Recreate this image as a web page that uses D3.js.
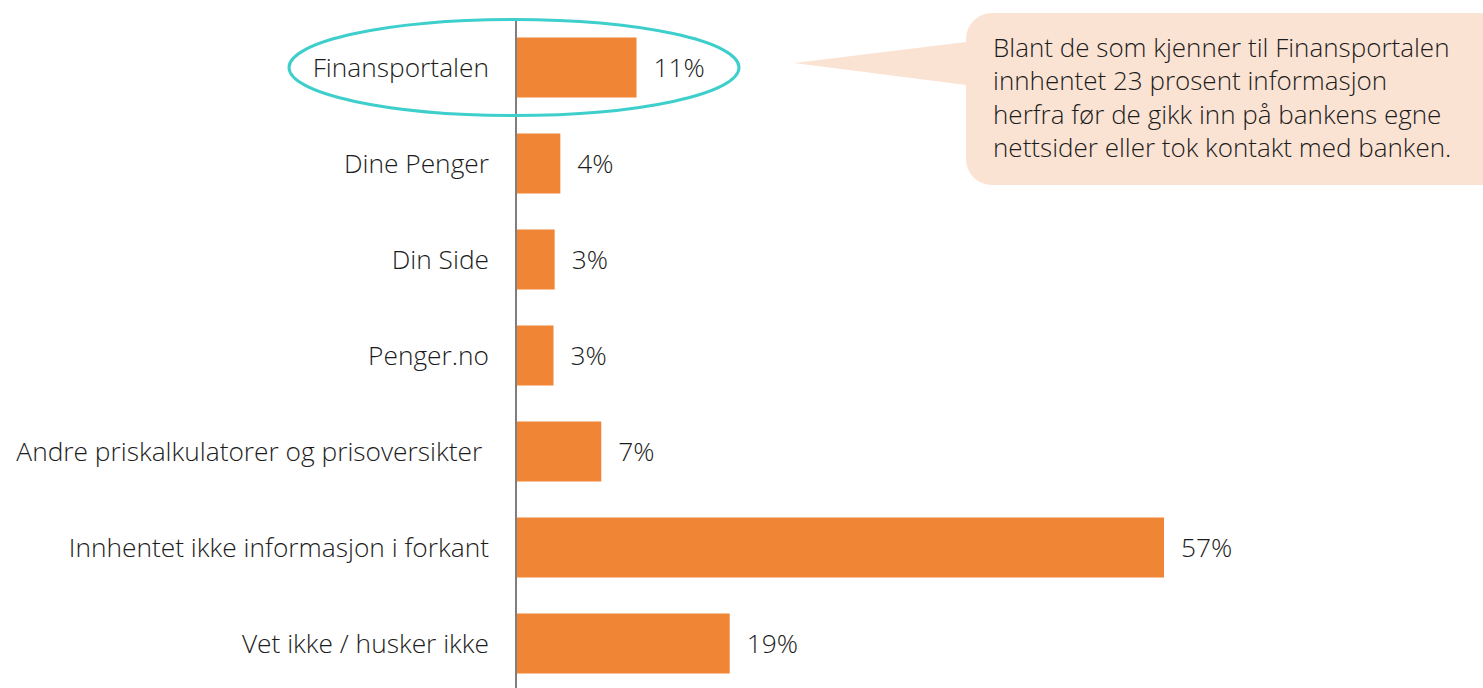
<!DOCTYPE html>
<html>
<head>
<meta charset="utf-8">
<script src="https://cdn.jsdelivr.net/npm/d3@7"></script>
<style>
  body { margin: 0; background: #fff; }
  svg text { font-family: "Open Sans", "Noto Sans", sans-serif; font-weight: 300; fill: #1c1c1c; white-space: pre; }
</style>
</head>
<body>
<svg id="chart" width="1483" height="688"></svg>
<script>
const categories = [
  "Finansportalen",
  "Dine Penger",
  "Din Side",
  "Penger.no",
  "Andre priskalkulatorer og prisoversikter ",
  "Innhentet ikke informasjon i forkant",
  "Vet ikke / husker ikke"
];
const values = [10.6, 3.9, 3.4, 3.3, 7.5, 57, 18.8];
const valueLabels = ["11%", "4%", "3%", "3%", "7%", "57%", "19%"];
const calloutLines = [
  "Blant de som kjenner til Finansportalen",
  "innhentet 23 prosent informasjon",
  "herfra før de gikk inn på bankens egne",
  "nettsider eller tok kontakt med banken."
];

const svg = d3.select("#chart");
const axisX = 516;

const x = d3.scaleLinear().domain([0, 57]).range([axisX, 1164]);
const y = d3.scaleBand()
  .domain(categories)
  .range([19.5, 691.5])
  .paddingInner(0.375)
  .paddingOuter(0.1875);

const data = categories.map((c, i) => ({ cat: c, v: values[i], lab: valueLabels[i] }));

// bars
svg.selectAll("rect.bar")
  .data(data)
  .join("rect")
  .attr("class", "bar")
  .attr("x", x(0))
  .attr("y", d => y(d.cat))
  .attr("width", d => x(d.v) - x(0))
  .attr("height", y.bandwidth())
  .attr("fill", "#f08536");

// category labels
svg.selectAll("text.cat")
  .data(data)
  .join("text")
  .attr("class", "cat")
  .attr("x", axisX - 27)
  .attr("y", d => y(d.cat) + y.bandwidth() / 2)
  .attr("dy", "0.35em")
  .attr("text-anchor", "end")
  .style("font-size", "26.3px")
  .text(d => d.cat);

// value labels
svg.selectAll("text.val")
  .data(data)
  .join("text")
  .attr("class", "val")
  .attr("x", d => x(d.v) + 17)
  .attr("y", d => y(d.cat) + y.bandwidth() / 2)
  .attr("dy", "0.35em")
  .style("font-size", "26.3px")
  .text(d => d.lab);

// vertical axis line
svg.append("line")
  .attr("x1", axisX).attr("x2", axisX)
  .attr("y1", 20).attr("y2", 688)
  .attr("stroke", "#7f7f7f")
  .attr("stroke-width", 2);

// highlight ellipse around first row
const cy0 = y(categories[0]) + y.bandwidth() / 2;
svg.append("ellipse")
  .attr("cx", 514)
  .attr("cy", cy0)
  .attr("rx", 225)
  .attr("ry", 48)
  .attr("fill", "none")
  .attr("stroke", "#3ecfcc")
  .attr("stroke-width", 3);

// callout bubble
const callout = svg.append("g");
callout.append("path")
  .attr("d", "M966,42 L794,63 L966,85 Z")
  .attr("fill", "#fbe3d4");
callout.append("rect")
  .attr("x", 966).attr("y", 13)
  .attr("width", 540).attr("height", 172)
  .attr("rx", 26)
  .attr("fill", "#fbe3d4");
callout.selectAll("text")
  .data(calloutLines)
  .join("text")
  .attr("x", 993)
  .attr("y", (d, i) => 57 + i * 33.3)
  .style("font-size", "26px")
  .text(d => d);
</script>
</body>
</html>
